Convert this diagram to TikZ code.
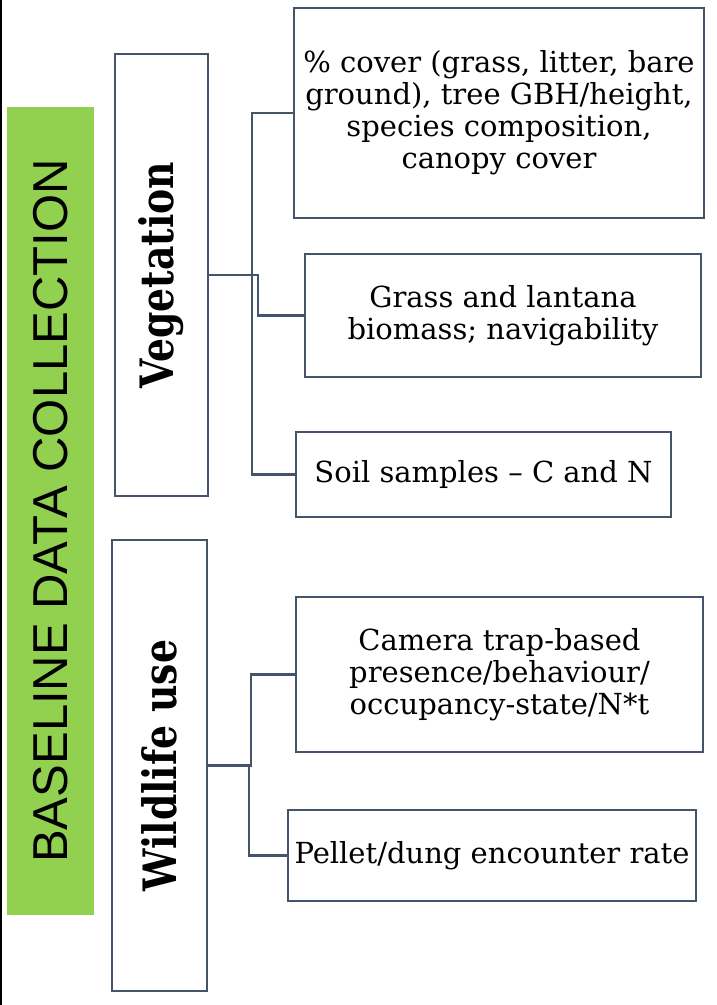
\documentclass[tikz,border=0pt]{standalone}
\usepackage{fontspec}
\setmainfont{DejaVu Serif}
\newfontfamily\titlefont{Liberation Sans}
\usepackage{tikz}
\usetikzlibrary{calc}
\definecolor{slate}{HTML}{44546A}
\definecolor{leaf}{HTML}{92D050}

\begin{document}
\begin{tikzpicture}[
	x=1pt, y=-1pt,
	item/.style={
		draw=slate, line width=2.2pt, fill=white,
		rectangle, inner sep=0pt, align=center,
		font=\fontsize{29}{32}\selectfont, text=black
	},
	group/.style={
		draw=slate, line width=2.2pt, fill=white,
		rectangle, inner sep=0pt,
		font=\fontsize{46}{50}\selectfont\bfseries
	},
	link/.style={draw=slate, line width=2.2pt}
	]
	\useasboundingbox (0,0) rectangle (716,1005);
	\draw[line width=2.5pt] (1,0) -- (1,1005);
	% title bar
	\node[fill=leaf, inner sep=0pt, minimum width=87, minimum height=808] (base) at (50.5,511)
		{\rotatebox{90}{\titlefont\fontsize{49}{52}\selectfont BASELINE DATA COLLECTION}};
	% groups
	\node[group, minimum width=93, minimum height=442] (veg) at (161.5,275)
		{\rotatebox{90}{\scalebox{0.82}[1]{Vegetation}}};
	\node[group, minimum width=95, minimum height=451] (wild) at (159.5,765.5)
		{\rotatebox{90}{\scalebox{0.82}[1]{Wildlife use}}};
	% measures
	\node[item, minimum width=410, minimum height=210] (cover) at (499,113)
		{\% cover (grass, litter, bare\\ground), tree GBH/height,\\species composition,\\canopy cover};
	\node[item, minimum width=396, minimum height=123] (biomass) at (503,315.5)
		{Grass and lantana\\biomass; navigability};
	\node[item, minimum width=375, minimum height=85] (soil) at (483.5,474.5)
		{Soil samples -- C and N};
	\node[item, minimum width=407, minimum height=155] (camera) at (499.5,674.5)
		{Camera trap-based\\presence/behaviour/\\occupancy-state/N*t};
	\node[item, minimum width=408, minimum height=91] (pellet) at (492,855.5)
		{Pellet/dung encounter rate};
	% connectors
	\foreach \b/\d in {cover/43, biomass/49, soil/43}
		\draw[link] (veg.east) -- ++(\d,0) |- (\b.west);
	\foreach \b/\d in {camera/43, pellet/41}
		\draw[link] (wild.east) -- ++(\d,0) |- (\b.west);
\end{tikzpicture}
\end{document}
